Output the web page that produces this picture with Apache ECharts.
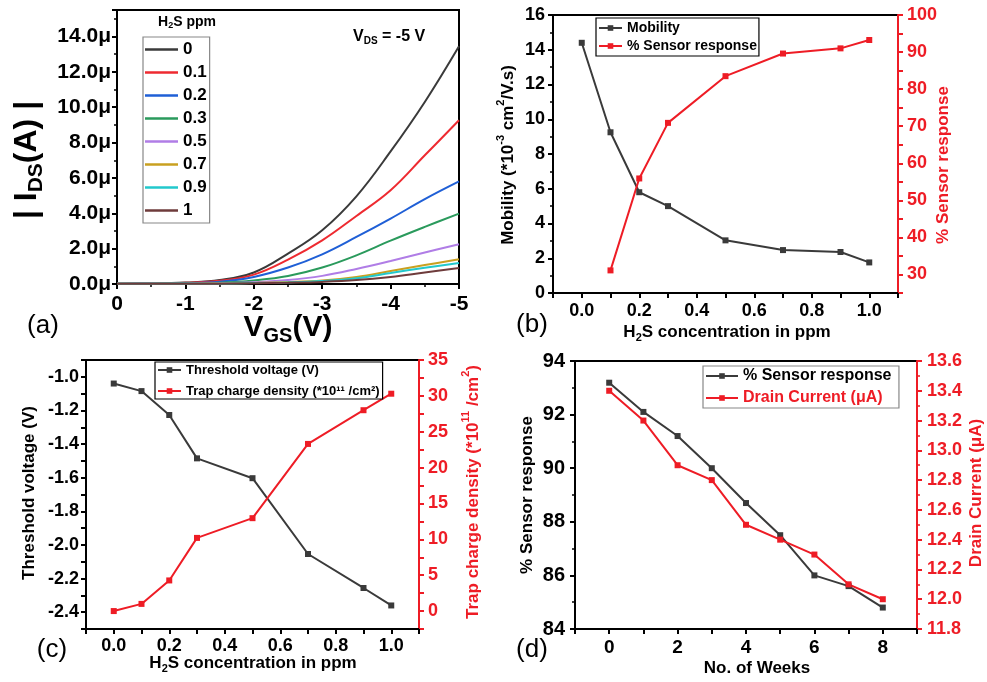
<!DOCTYPE html>
<html><head><meta charset="utf-8">
<script src="https://cdn.jsdelivr.net/npm/echarts@6/dist/echarts.min.js"></script>
<style>html,body{margin:0;padding:0;background:#fff}#c{width:987px;height:682px}</style>
</head><body><div id="c"></div>
<script>
const FONT = 'Liberation Sans, Arial, Helvetica, sans-serif';

// ---- Panel (a): transfer curves ----
const vgs = [0, -0.5, -1, -1.5, -2, -2.5, -3, -3.5, -4, -4.5, -5];
const ppmLabels = ['0', '0.1', '0.2', '0.3', '0.5', '0.7', '0.9', '1'];
const ids_0   = [0.02, 0.03, 0.08, 0.22, 0.65, 1.72, 3.04, 4.96, 7.5, 10.3, 13.45];
const ids_01  = [0.02, 0.03, 0.07, 0.18, 0.53, 1.38, 2.47, 3.85, 5.3, 7.28, 9.26];
const ids_02  = [0.02, 0.03, 0.05, 0.13, 0.4, 0.93, 1.68, 2.66, 3.7, 4.8, 5.8];
const ids_03  = [0.01, 0.02, 0.03, 0.07, 0.2, 0.45, 0.93, 1.62, 2.45, 3.23, 3.98];
const ids_05  = [0.01, 0.01, 0.02, 0.04, 0.1, 0.22, 0.46, 0.85, 1.3, 1.78, 2.25];
const ids_07  = [0.01, 0.01, 0.01, 0.03, 0.06, 0.11, 0.2, 0.4, 0.73, 1.07, 1.4];
const ids_09  = [0.01, 0.01, 0.01, 0.02, 0.05, 0.09, 0.17, 0.33, 0.62, 0.92, 1.19];
const ids_1   = [0.01, 0.01, 0.01, 0.02, 0.04, 0.07, 0.12, 0.22, 0.4, 0.65, 0.9];
const idsAll = [ids_0, ids_01, ids_02, ids_03, ids_05, ids_07, ids_09, ids_1];
const ppmColors = ['#3a3a3a', '#ee2a30', '#1f5fd6', '#2a9a5c', '#b07de6', '#c9a020', '#22c8cc', '#6e3b3b'];

// ---- Panel (b) ----
const conc = [0, 0.1, 0.2, 0.3, 0.5, 0.7, 0.9, 1.0];
const mobility = [14.4, 9.25, 5.8, 5.0, 3.03, 2.47, 2.36, 1.76];
const respConc = [0.1, 0.2, 0.3, 0.5, 0.7, 0.9, 1.0];
const sensorResp = [31.1, 55.9, 70.9, 83.5, 89.6, 91.0, 93.25];

// ---- Panel (c) ----
const vth = [-1.04, -1.085, -1.227, -1.485, -1.603, -2.054, -2.256, -2.36];
const trapDensity = [0, 1.0, 4.27, 10.2, 12.95, 23.3, 28.0, 30.3];

// ---- Panel (d) ----
const weeks = [0, 1, 2, 3, 4, 5, 6, 7, 8];
const weeklyResp = [93.19, 92.1, 91.2, 90.0, 88.7, 87.5, 86.0, 85.6, 84.8];
const drainCurrent = [13.4, 13.2, 12.9, 12.8, 12.5, 12.4, 12.3, 12.1, 12.0];

const BLACK = '#3a3a3a';
const RED = '#ee1c25';

function axis(gridIndex, o) {
  const color = o.color || '#000';
  return {
    gridIndex: gridIndex, type: 'value', min: o.min, max: o.max, interval: o.interval,
    position: o.position, inverse: !!o.inverse,
    splitLine: { show: false },
    axisLine: { show: true, onZero: false, lineStyle: { color: color, width: 2 } },
    axisTick: { show: true, length: 5, lineStyle: { color: color, width: 2 } },
    minorTick: { show: !!o.minor, splitNumber: 2, length: 3, lineStyle: { color: color, width: 1.5 } },
    axisLabel: { show: true, margin: o.margin || 8, color: color, fontSize: o.fs || 18, fontWeight: 'bold', fontFamily: FONT, formatter: o.fmt, showMinLabel: true, showMaxLabel: true }
  };
}
function evenTenth(v) { const k = Math.round(v * 10); return k % 2 === 0 ? (k / 10).toFixed(1) : ''; }

const grids = [
  { left: 117, top: 10, width: 342, height: 274 },
  { left: 553, top: 15, width: 345, height: 278 },
  { left: 86, top: 360, width: 333, height: 269 },
  { left: 575, top: 361, width: 342, height: 268 }
].map(g => Object.assign(g, { show: true, borderColor: '#000', borderWidth: 2, backgroundColor: 'transparent' }));

const xAxes = [
  axis(0, { min: -5, max: 0, interval: 1, inverse: true, minor: true, fs: 21, margin: 10, fmt: v => v === 0 ? '0' : String(v) }),
  axis(1, { min: -0.1, max: 1.1, interval: 0.1, fs: 18, margin: 9, fmt: evenTenth }),
  axis(2, { min: -0.1, max: 1.1, interval: 0.1, fs: 18, margin: 8, fmt: evenTenth }),
  axis(3, { min: -1, max: 9, interval: 1, fs: 19, margin: 9, fmt: v => (Math.round(v) % 2 === 0 ? String(v) : '') })
];
const yAxes = [
  axis(0, { min: 0, max: 15.5, interval: 2, minor: true, fs: 21, margin: 6, fmt: v => (Math.abs(v % 2) < 1e-9 ? v.toFixed(1) + 'μ' : '') }),
  axis(1, { min: 0, max: 16, interval: 2, minor: true, fs: 18, margin: 8, position: 'left', fmt: v => String(v) }),
  axis(1, { min: 25, max: 100, interval: 5, fs: 18, margin: 9, position: 'right', color: RED, fmt: v => (v % 10 === 0 ? String(v) : '') }),
  axis(2, { min: -2.5, max: -0.9, interval: 0.1, fs: 18, margin: 7, position: 'left', fmt: evenTenth }),
  axis(2, { min: -2.5, max: 35, interval: 2.5, fs: 18, margin: 9, position: 'right', color: RED, fmt: v => (v % 5 === 0 ? String(v) : '') }),
  axis(3, { min: 84, max: 94, interval: 2, minor: true, fs: 20, margin: 10, position: 'left', fmt: v => String(v) }),
  axis(3, { min: 11.8, max: 13.6, interval: 0.2, minor: true, fs: 18, margin: 10, position: 'right', color: RED, fmt: v => v.toFixed(1) })
];

const series = [];
ppmLabels.forEach((name, i) => {
  series.push({
    name: name, type: 'line', xAxisIndex: 0, yAxisIndex: 0, smooth: 0.4, symbol: 'none',
    color: ppmColors[i], lineStyle: { width: 2, color: ppmColors[i] },
    data: vgs.map((x, j) => [x, idsAll[i][j]])
  });
});
function mk(name, xi, yi, xs, ys, color) {
  return {
    name: name, type: 'line', xAxisIndex: xi, yAxisIndex: yi, symbol: 'rect', symbolSize: 6,
    color: color, lineStyle: { width: 2, color: color }, itemStyle: { color: color },
    data: xs.map((x, j) => [x, ys[j]])
  };
}
series.push(mk('Mobility', 1, 1, conc, mobility, BLACK));
series.push(mk('% Sensor response', 1, 2, respConc, sensorResp, RED));
series.push(mk('Threshold voltage (V)', 2, 3, conc, vth, BLACK));
series.push(mk('Trap charge density (*10¹¹ /cm²)', 2, 4, conc, trapDensity, RED));
series.push(mk('% Sensor response ', 3, 5, weeks, weeklyResp, BLACK));
series.push(mk('Drain Current (μA)', 3, 6, weeks, drainCurrent, RED));

function lg(o, fs, lh) {
  return Object.assign({
    orient: 'vertical', borderWidth: 1.2, borderColor: '#000', backgroundColor: '#fff',
    selectedMode: false, align: 'left',
    textStyle: { fontFamily: FONT, fontWeight: 'bold', color: '#000', fontSize: fs, lineHeight: lh }
  }, o);
}
const legends = [
  lg({ data: ppmLabels, left: 143, top: 37, icon: 'rect', itemWidth: 33, itemHeight: 2.5, itemGap: 6, padding: [4, 3, 4, 2], borderColor: '#888' }, 17, 16),
  lg({ data: ['Mobility', '% Sensor response'], left: 596, top: 18, itemWidth: 23, itemHeight: 7, itemGap: 4, padding: [3, 2, 3, 2] }, 14, 14),
  lg({ data: ['Threshold voltage (V)', 'Trap charge density (*10¹¹ /cm²)'], left: 155, top: 362, itemWidth: 23, itemHeight: 7, itemGap: 7, padding: [1, 3, 1, 2] }, 13, 14),
  lg({ data: [{ name: '% Sensor response ' }, { name: 'Drain Current (μA)', textStyle: { color: RED } }], left: 703, top: 366, itemWidth: 32, itemHeight: 7, itemGap: 5, padding: [1.5, 3, 1.5, 2], borderColor: '#888' }, 16, 17)
];

function rt(x, y, parts, size, color, rot, align, weight) {
  const hasSup = parts.some(p => p[1] === 'sup');
  const w = weight || 'bold';
  const small = Math.round(size * 0.65);
  const rich = {
    n: { fontSize: size, fontWeight: w, fontFamily: FONT, fill: color, color: color, verticalAlign: 'top', lineHeight: Math.round(size * 1.15), padding: [hasSup ? Math.round(size * 0.3) : 0, 0, 0, 0] },
    sub: { fontSize: small, fontWeight: w, fontFamily: FONT, fill: color, color: color, verticalAlign: 'top', lineHeight: Math.round(small * 1.15), padding: [Math.round(size * 0.45), 0, 0, 0] },
    sup: { fontSize: small, fontWeight: w, fontFamily: FONT, fill: color, color: color, verticalAlign: 'top', lineHeight: Math.round(small * 1.15), padding: [0, 0, 0, 0] }
  };
  return {
    type: 'text', x: x, y: y, rotation: rot || 0, z: 100,
    style: {
      text: parts.map(p => '{' + p[1] + '|' + p[0] + '}').join(''),
      rich: rich, fill: color, align: align || 'center', verticalAlign: 'middle',
      font: w + ' ' + size + 'px ' + FONT
    }
  };
}
const R = Math.PI / 2;
const graphics = [
  rt(30, 160, [['| I', 'n'], ['DS', 'sub'], ['(A) |', 'n']], 32, '#000', R),
  rt(288, 330, [['V', 'n'], ['GS', 'sub'], ['(V)', 'n']], 30, '#000', 0),
  rt(43, 328, [['(a)', 'n']], 26, '#000', 0, 'center', 'normal'),
  rt(353, 38, [['V', 'n'], ['DS', 'sub'], [' = -5 V', 'n']], 16, '#000', 0, 'left'),
  rt(187, 23, [['H', 'n'], ['2', 'sub'], ['S ppm', 'n']], 14, '#000', 0),
  rt(505, 155, [['Mobility (*10', 'n'], ['-3', 'sup'], [' cm', 'n'], ['2', 'sup'], ['/V.s)', 'n']], 17, '#000', R),
  rt(945, 165, [['% Sensor response', 'n']], 17, RED, R),
  rt(727, 334, [['H', 'n'], ['2', 'sub'], ['S concentration in ppm', 'n']], 17, '#000', 0),
  rt(532, 327, [['(b)', 'n']], 26, '#000', 0, 'center', 'normal'),
  rt(31, 493, [['Threshold voltage (V)', 'n']], 17, '#000', R),
  rt(470, 492, [['Trap charge density (*10', 'n'], ['11', 'sup'], [' /cm', 'n'], ['2', 'sup'], [')', 'n']], 17, RED, R),
  rt(253, 665, [['H', 'n'], ['2', 'sub'], ['S concentration in ppm', 'n']], 17, '#000', 0),
  rt(52, 652, [['(c)', 'n']], 26, '#000', 0, 'center', 'normal'),
  rt(529, 495, [['% Sensor response', 'n']], 17, '#000', R),
  rt(978, 493, [['Drain Current (μA)', 'n']], 17, RED, R),
  rt(757, 670, [['No. of Weeks', 'n']], 17, '#000', 0),
  rt(532, 652, [['(d)', 'n']], 26, '#000', 0, 'center', 'normal')
];

const chart = echarts.init(document.getElementById('c'), null, { renderer: 'canvas' });
chart.setOption({
  backgroundColor: '#fff',
  animation: false,
  grid: grids,
  xAxis: xAxes,
  yAxis: yAxes,
  legend: legends,
  series: series,
  graphic: graphics
});
</script></body></html>
